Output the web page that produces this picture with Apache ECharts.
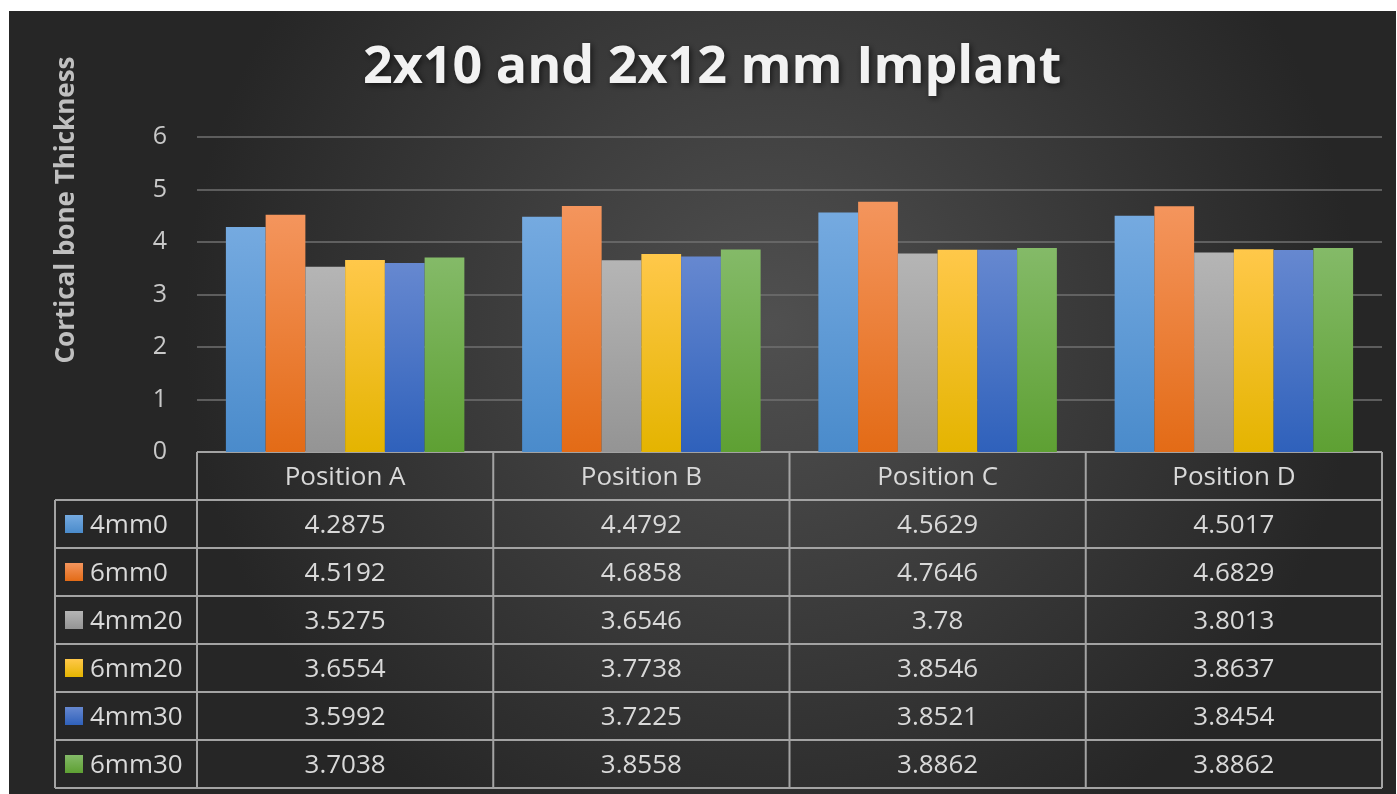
<!DOCTYPE html>
<html>
<head>
<meta charset="utf-8">
<script src="https://cdn.jsdelivr.net/npm/echarts@6/dist/echarts.min.js"></script>
<style>
  html, body { margin: 0; padding: 0; background: #fff; }
  #container { position: absolute; left: 9px; top: 11px; width: 1387px; height: 783px; }
</style>
</head>
<body>
<div id="container"></div>
<script>
const categories = ['Position A', 'Position B', 'Position C', 'Position D'];
const seriesNames = ['4mm0', '6mm0', '4mm20', '6mm20', '4mm30', '6mm30'];
const v4mm0 = [4.2875, 4.4792, 4.5629, 4.5017];
const v6mm0 = [4.5192, 4.6858, 4.7646, 4.6829];
const v4mm20 = [3.5275, 3.6546, 3.78, 3.8013];
const v6mm20 = [3.6554, 3.7738, 3.8546, 3.8637];
const v4mm30 = [3.5992, 3.7225, 3.8521, 3.8454];
const v6mm30 = [3.7038, 3.8558, 3.8862, 3.8862];
const seriesValues = [v4mm0, v6mm0, v4mm20, v6mm20, v4mm30, v6mm30];

// top / bottom colours of each bar gradient
const barColors = [
  ['#75aae0', '#4a8bcb'],
  ['#f4955d', '#e36b16'],
  ['#b5b5b5', '#949494'],
  ['#ffc84a', '#e4b400'],
  ['#6688d0', '#2f61bb'],
  ['#84ba68', '#5ea033']
];

var dom = document.getElementById('container');
var myChart = echarts.init(dom, null, { renderer: 'canvas' });

const W = 1387, H = 783;
const gridLeft = 188, gridRight = 14, gridTop = 126, gridBottom = 342;
const plotRight = W - gridRight;
const plotBottom = H - gridBottom;
const headerH = 48, rowH = 48, legendLeft = 46;
const lineColor = '#a3a3a3';
const textColor = '#d9d9d9';
const fontFamily = 'Open Sans';
const tableFont = 26;

var option = {
  backgroundColor: {
    type: 'radial', x: 0.55, y: 0.4, r: 0.75,
    colorStops: [
      { offset: 0, color: '#505050' },
      { offset: 1, color: '#262626' }
    ]
  },
  title: {
    text: '2x10 and 2x12 mm Implant',
    left: 349,
    top: 26,
    textStyle: {
      color: '#f2f2f2',
      fontSize: 52,
      fontWeight: 'bold',
      fontFamily: fontFamily,
      textShadowColor: 'rgba(0,0,0,0.6)',
      textShadowBlur: 6,
      textShadowOffsetX: 2,
      textShadowOffsetY: 2
    }
  },
  grid: { left: gridLeft, right: gridRight, top: gridTop, bottom: gridBottom },
  xAxis: {
    type: 'category',
    data: categories,
    axisLine: { show: false },
    axisTick: { show: false },
    axisLabel: {
      color: textColor, fontSize: tableFont, fontFamily: fontFamily, margin: 13
    }
  },
  yAxis: {
    type: 'value',
    min: 0, max: 6, interval: 1,
    axisLine: { show: false },
    axisTick: { show: false },
    axisLabel: { color: '#c8c8c8', fontSize: 25, fontFamily: fontFamily, margin: 30 },
    splitLine: { lineStyle: { color: '#707070', width: 1.5 } }
  },
  series: seriesNames.map((name, i) => ({
    name: name,
    type: 'bar',
    data: seriesValues[i],
    barGap: '0%',
    barCategoryGap: '19.5%',
    itemStyle: {
      color: {
        type: 'linear', x: 0, y: 0, x2: 0, y2: 1,
        colorStops: [
          { offset: 0, color: barColors[i][0] },
          { offset: 1, color: barColors[i][1] }
        ]
      },
      shadowColor: 'rgba(0,0,0,0.45)',
      shadowBlur: 10,
      shadowOffsetX: 3,
      shadowOffsetY: 0
    }
  }))
};

myChart.setOption(option);

// data table under the plot, built from the same arrays
function buildTable() {
  const g = [];
  const line = (x1, y1, x2, y2) => g.push({
    type: 'line', silent: true,
    shape: { x1: x1, y1: y1, x2: x2, y2: y2 },
    style: { stroke: lineColor, lineWidth: 2 }
  });
  const colW = (plotRight - gridLeft) / categories.length;
  const bodyTop = plotBottom + headerH;
  const bodyBottom = bodyTop + rowH * seriesNames.length;

  line(gridLeft, plotBottom, plotRight, plotBottom);
  for (let i = 0; i <= seriesNames.length; i++) {
    line(legendLeft, bodyTop + i * rowH, plotRight, bodyTop + i * rowH);
  }
  line(legendLeft, bodyTop, legendLeft, bodyBottom);
  for (let j = 0; j <= categories.length; j++) {
    line(gridLeft + j * colW, plotBottom, gridLeft + j * colW, bodyBottom);
  }

  seriesNames.forEach((name, i) => {
    const cy = bodyTop + i * rowH + rowH / 2;
    g.push({
      type: 'rect', silent: true,
      shape: { x: legendLeft + 10, y: cy - 9, width: 18, height: 18 },
      style: {
        fill: {
          type: 'linear', x: 0, y: 0, x2: 0, y2: 1,
          colorStops: [
            { offset: 0, color: barColors[i][0] },
            { offset: 1, color: barColors[i][1] }
          ]
        }
      }
    });
    g.push({
      type: 'text', silent: true,
      x: legendLeft + 35, y: cy + 2,
      style: {
        text: name, fill: textColor, fontSize: tableFont, fontFamily: fontFamily,
        align: 'left', verticalAlign: 'middle'
      }
    });
    categories.forEach((cat, j) => {
      const cx = myChart.convertToPixel({ xAxisIndex: 0 }, cat);
      g.push({
        type: 'text', silent: true,
        x: cx, y: cy + 2,
        style: {
          text: String(seriesValues[i][j]), fill: textColor, fontSize: tableFont,
          fontFamily: fontFamily, align: 'center', verticalAlign: 'middle'
        }
      });
    });
  });

  g.push({
    type: 'text', silent: true,
    x: 58, y: 199, rotation: Math.PI / 2,
    style: {
      text: 'Cortical bone Thickness', fill: '#bfbfbf', fontSize: 26,
      fontWeight: 'bold', fontFamily: fontFamily,
      align: 'center', verticalAlign: 'middle'
    }
  });
  return g;
}

myChart.setOption({ graphic: buildTable() });
window.addEventListener('resize', myChart.resize);
</script>
</body>
</html>
